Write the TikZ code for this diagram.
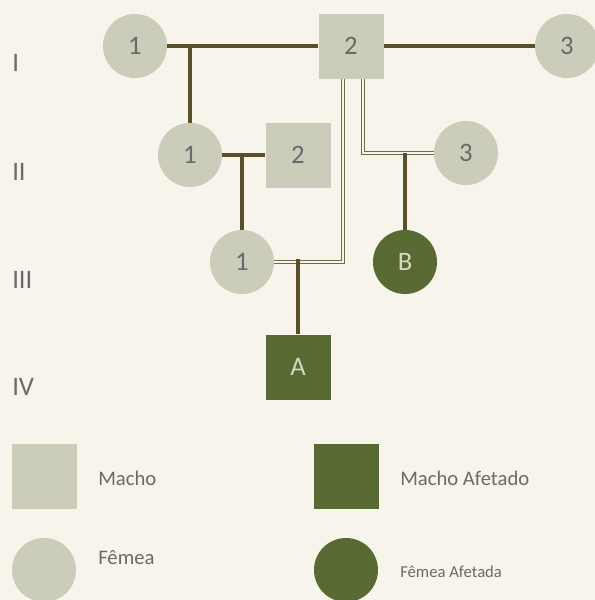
\documentclass[tikz,border=0pt]{standalone}
\usepackage{fontspec}
\setmainfont{Carlito}
\definecolor{bg}{HTML}{F6F4EB}
\definecolor{pale}{HTML}{CBCDBA}
\definecolor{dark}{HTML}{566A32}
\definecolor{linec}{HTML}{5B4F28}
\definecolor{txt}{HTML}{6A6A6A}
\definecolor{ltxt}{HTML}{D4D6C6}
\begin{document}
\begin{tikzpicture}[x=0.75pt,y=-0.75pt,
  fem/.style={circle,fill=pale,minimum size=64*0.75pt,inner sep=0pt,text=txt,font=\fontsize{20}{20}\selectfont},
  mal/.style={rectangle,fill=pale,minimum size=65*0.75pt,inner sep=0pt,text=txt,font=\fontsize{20}{20}\selectfont},
  femA/.style={fem,fill=dark,text=ltxt},
  malA/.style={mal,fill=dark,text=ltxt},
  gen/.style={anchor=west,inner sep=0pt,text=txt,font=\fontsize{20}{20}\selectfont},
  leg/.style={anchor=west,inner sep=0pt,text=txt,font=\fontsize{15.5}{15.5}\selectfont},
  mate/.style={draw=linec,line width=2.3pt},
  twin/.style={draw=linec!85,line width=0.7pt,double=bg,double distance=1.4pt}]
\fill[bg] (0,0) rectangle (595,600);
\useasboundingbox (0,0) rectangle (595,600);
% generations
\node[gen] (g1) at (12,63) {I};
\node[gen] (g2) at (12,172) {II};
\node[gen] (g3) at (12,280) {III};
\node[gen] (g4) at (12,387) {IV};
% nodes
\node[fem] (i1) at (135,46) {1};
\node[mal] (i2) at (351,46) {2};
\node[fem] (i3) at (567,46) {3};
\node[fem] (ii1) at (190,155) {1};
\node[mal] (ii2) at (298,155) {2};
\node[fem] (ii3) at (466,153) {3};
\node[fem] (iii1) at (242,262) {1};
\node[femA] (b) at (405,262) {B};
\node[malA] (a) at (298,367) {A};
% coordinates
\coordinate (c1) at (190,46);
\coordinate (c2) at (242,155);
\coordinate (d1) at (343,79);
\coordinate (d2) at (343,262);
\coordinate (e1) at (363,79);
\coordinate (e2) at (363,153);
\coordinate (f0) at (298,259);
\coordinate (h1) at (405,153);
% double lines
\draw[twin] (d1) -- (d2) -- (iii1.east);
\draw[twin] (e1) -- (e2) -- (ii3.west);
% mating lines
\draw[mate] (i1.east) -- (i2.west);
\draw[mate] (i2.east) -- (i3.west);
\draw[mate] (c1) -- (ii1.north);
\draw[mate] (ii1.east) -- (ii2.west);
\draw[mate] (c2) -- (iii1.north);
\draw[mate] (f0) -- (a.north);
\draw[mate] (h1) -- (b.north);
% legend
\node[mal] (lm) at (44.5,476.5) {};
\node[leg] (tm) at (98,478) {Macho};
\node[malA] (lma) at (346.5,476.5) {};
\node[leg] (tma) at (400,478) {Macho Afetado};
\node[fem] (lf) at (44,570) {};
\node[leg] (tf) at (98,558) {Fêmea};
\node[femA] (lfa) at (346,570) {};
\node[leg,font=\fontsize{12.5}{12.5}\selectfont] (tfa) at (400,572) {Fêmea Afetada};
\end{tikzpicture}
\end{document}
